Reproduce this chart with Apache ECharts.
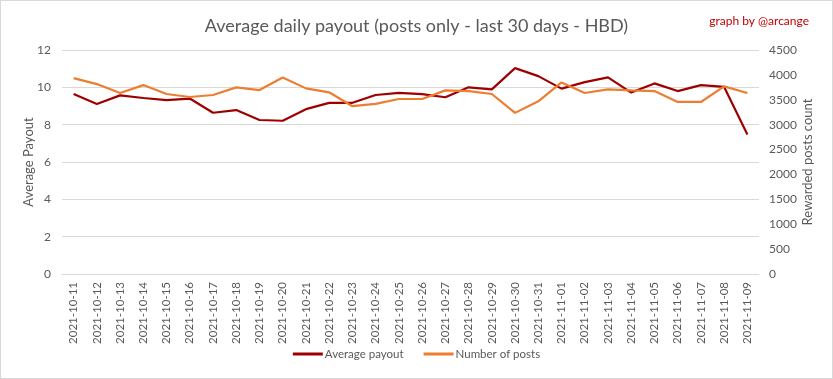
<!DOCTYPE html>
<html><head><meta charset="utf-8">
<script src="https://cdn.jsdelivr.net/npm/echarts@6/dist/echarts.min.js"></script>
<style>html,body{margin:0;padding:0;background:#fff;}#c{width:833px;height:379px;box-sizing:border-box;border:1px solid #d9d9d9;}</style>
</head><body><div id="c"></div>
<script>
const categories = ['2021-10-11','2021-10-12','2021-10-13','2021-10-14','2021-10-15','2021-10-16','2021-10-17','2021-10-18','2021-10-19','2021-10-20','2021-10-21','2021-10-22','2021-10-23','2021-10-24','2021-10-25','2021-10-26','2021-10-27','2021-10-28','2021-10-29','2021-10-30','2021-10-31','2021-11-01','2021-11-02','2021-11-03','2021-11-04','2021-11-05','2021-11-06','2021-11-07','2021-11-08','2021-11-09'];
const avgPayout = [9.64,9.11,9.57,9.43,9.31,9.40,8.64,8.78,8.25,8.21,8.83,9.17,9.17,9.59,9.70,9.64,9.47,10.00,9.89,11.03,10.60,9.93,10.28,10.53,9.72,10.21,9.80,10.12,10.02,7.47];
const numPosts = [3934,3815,3636,3795,3616,3556,3596,3749,3695,3948,3729,3650,3371,3417,3516,3516,3689,3675,3616,3237,3470,3848,3636,3709,3689,3675,3456,3456,3769,3636];
const leftTicks = {min:0,max:12,interval:2};
const rightTicks = {min:0,max:4500,interval:500};

const FONT = 'Lato, sans-serif';
const chart = echarts.init(document.getElementById('c'));
chart.setOption({
  animation:false,
  textStyle:{fontFamily:FONT},
  title:[{text:'Average daily payout (posts only - last 30 days - HBD)',left:'center',top:11,
    textStyle:{fontFamily:FONT,fontSize:18,fontWeight:'normal',color:'#595959'}},
    {text:'graph by @arcange',right:18,top:9,textStyle:{fontFamily:FONT,fontSize:12,fontWeight:'normal',color:'#c00000'}}],
  legend:{bottom:13,left:'center',itemWidth:30,itemHeight:3,itemGap:20,icon:'rect',
    textStyle:{fontFamily:FONT,fontSize:11.5,color:'#595959',padding:[0,0,0,-3]},
    data:['Average payout','Number of posts']},
  grid:{left:61,right:73,top:49,bottom:104},
  xAxis:{type:'category',data:categories,boundaryGap:true,
    axisLine:{show:true,lineStyle:{color:'#d9d9d9'}},axisTick:{show:false},
    axisLabel:{rotate:90,interval:0,color:'#595959',fontSize:11.5,fontFamily:FONT,margin:8}},
  yAxis:[{type:'value',min:leftTicks.min,max:leftTicks.max,interval:leftTicks.interval,
    name:'Average Payout',nameLocation:'middle',nameGap:33,nameRotate:90,nameMoveOverlap:false,
    nameTextStyle:{color:'#595959',fontSize:13,fontFamily:FONT,verticalAlign:'middle'},
    axisLabel:{color:'#595959',fontSize:12,fontFamily:FONT,margin:11},
    axisLine:{show:false},axisTick:{show:false},
    splitLine:{lineStyle:{color:'#d9d9d9'}}},
   {type:'value',min:rightTicks.min,max:rightTicks.max,interval:rightTicks.interval,
    name:'Rewarded posts count',nameLocation:'middle',nameGap:49,nameRotate:90,nameMoveOverlap:false,
    nameTextStyle:{color:'#595959',fontSize:13,fontFamily:FONT,verticalAlign:'middle'},
    axisLabel:{color:'#595959',fontSize:12,fontFamily:FONT,margin:10,formatter:v=>String(v)},
    axisLine:{show:false},axisTick:{show:false},splitLine:{show:false}}],
  series:[
    {name:'Average payout',type:'line',data:avgPayout,yAxisIndex:0,symbol:'none',
      lineStyle:{color:'#9e0000',width:2.2},itemStyle:{color:'#9e0000'}},
    {name:'Number of posts',type:'line',data:numPosts,yAxisIndex:1,symbol:'none',
      lineStyle:{color:'#ed7d31',width:2.2},itemStyle:{color:'#ed7d31'}}
  ]
});
</script></body></html>
